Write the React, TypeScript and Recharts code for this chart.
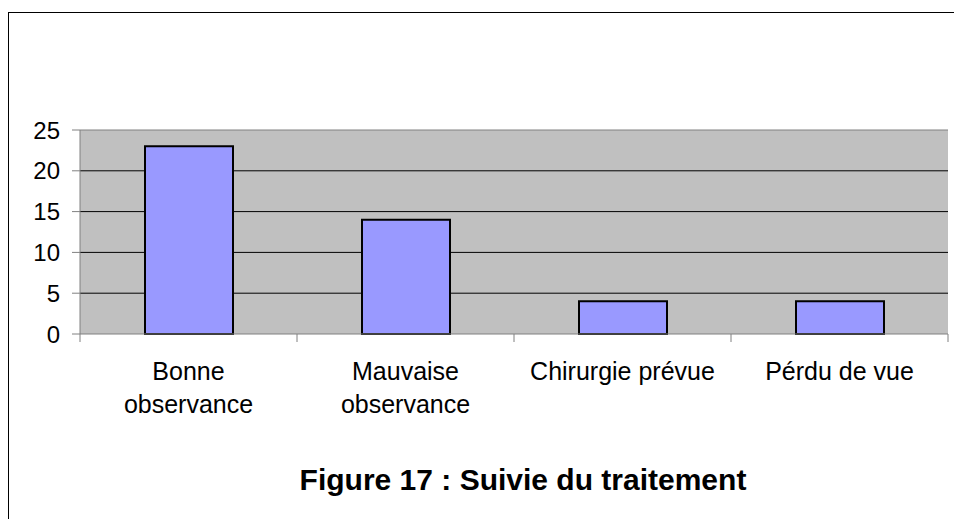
import { JSX } from 'react';
import {
  Bar,
  BarChart,
  CartesianGrid,
  ReferenceLine,
  XAxis,
  YAxis,
} from 'recharts';

const categories = [
  'Bonne\nobservance',
  'Mauvaise\nobservance',
  'Chirurgie prévue',
  'Pérdu de vue',
];
const patients = [23, 14, 4, 4];
const yTicks = [0, 5, 10, 15, 20, 25];
const boundaryTicks = [0, 1, 2, 3, 4];
const title = 'Figure 17 : Suivie du traitement';

const data = categories.map((name, i) => ({ name, value: patients[i], pos: i + 0.5 }));

const FONT = '"Liberation Sans", Arial, sans-serif';
const AXIS_GRAY = '#808080';

type TickProps = {
  x?: number;
  y?: number;
  payload?: { value: string };
};

const CategoryTick = ({ x = 0, y = 0, payload }: TickProps): JSX.Element => {
  const lines = String(payload?.value ?? '').split('\n');
  return (
    <text
      x={x}
      y={y}
      textAnchor='middle'
      fontFamily={FONT}
      fontSize={25}
      fill='#000'
    >
      {lines.map((line, i) => (
        <tspan key={i} x={x} dy={i === 0 ? 45 : 33}>
          {line}
        </tspan>
      ))}
    </text>
  );
};

// boundary ticks only need their tick marks, no labels
const EmptyTick = (): JSX.Element => <g />;

export default function App(): JSX.Element {
  return (
    <div style={{ position: 'absolute', left: 0, top: 0, width: 954, height: 519, overflow: 'hidden', background: '#fff' }}>
      <div
        style={{
          position: 'absolute',
          left: 8,
          top: 12,
          width: 1000,
          height: 600,
          border: '1px solid #000',
        }}
      />
      <BarChart
        width={954}
        height={519}
        data={data}
        margin={{ top: 130, right: 6, bottom: 65, left: 20 }}
        barSize={88}
        style={{ position: 'absolute', left: 0, top: 0 }}
      >
        <CartesianGrid
          xAxisId='cat'
          vertical={false}
          fill='#C0C0C0'
          fillOpacity={1}
          stroke='#000'
          strokeWidth={1}
          horizontalValues={[5, 10, 15, 20]}
        />
        <XAxis
          dataKey='pos'
          type='number'
          domain={[0, 4]}
          ticks={boundaryTicks}
          interval={0}
          height={1}
          tick={<EmptyTick />}
          tickSize={8}
          tickLine={{ stroke: AXIS_GRAY }}
          axisLine={{ stroke: AXIS_GRAY }}
        />
        <XAxis
          xAxisId='cat'
          dataKey='name'
          height={119}
          tickSize={0}
          tickMargin={0}
          tickLine={false}
          axisLine={false}
          interval={0}
          tick={<CategoryTick />}
        />
        <YAxis
          width={60}
          domain={[0, 25]}
          ticks={yTicks}
          tickSize={8}
          tickMargin={12}
          tickLine={{ stroke: AXIS_GRAY }}
          axisLine={{ stroke: AXIS_GRAY }}
          tick={{ fill: '#000', fontSize: 24, fontFamily: FONT }}
        />
        <YAxis
          yAxisId='frame'
          orientation='right'
          width={0}
          domain={[0, 25]}
          tick={false}
          tickLine={false}
          axisLine={{ stroke: AXIS_GRAY }}
        />
        <ReferenceLine xAxisId='cat' y={25} stroke={AXIS_GRAY} />
        <Bar
          xAxisId='cat'
          dataKey='value'
          fill='#9999FF'
          stroke='#000'
          strokeWidth={2}
          isAnimationActive={false}
        />
      </BarChart>
      <div
        style={{
          position: 'absolute',
          left: 0,
          width: 1046,
          top: 464,
          textAlign: 'center',
          fontFamily: FONT,
          fontWeight: 'bold',
          fontSize: 30,
          lineHeight: '32px',
          color: '#000',
        }}
      >
        {title}
      </div>
    </div>
  );
}
